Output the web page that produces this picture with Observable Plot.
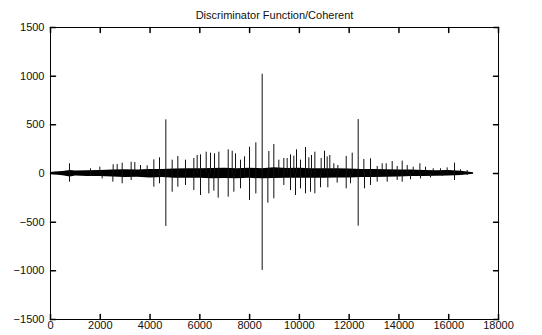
<!DOCTYPE html>
<html><head><meta charset="utf-8">
<script src="https://cdn.jsdelivr.net/npm/d3@7"></script>
<script src="https://cdn.jsdelivr.net/npm/@observablehq/plot@0.6"></script>
<style>body{margin:0;background:#fff}</style>
</head><body><div id="chart"></div>
<script>
const title = "Discriminator Function/Coherent";
const xTicks = [0, 2000, 4000, 6000, 8000, 10000, 12000, 14000, 16000, 18000];
const yTicks = [-1500, -1000, -500, 0, 500, 1000, 1500];

// upward spikes (sample index, value)
const upX = [763, 1607, 1982, 2518, 2679, 2880, 3241, 3388, 3616, 3884, 4152, 4380, 4634, 4889, 5116, 5424, 5759, 5893, 6027, 6255, 6429, 6590, 6764, 7140, 7301, 7434, 7635, 7796, 7996, 8250, 8505, 8773, 8973, 9174, 9375, 9509, 9643, 9777, 9884, 10045, 10246, 10380, 10487, 10621, 10875, 11009, 11116, 11223, 11384, 11545, 11881, 12122, 12363, 12590, 12858, 13126, 13327, 13488, 13729, 13930, 14131, 14332, 14573, 14841, 15068, 15376, 15670, 15938, 16233, 16474, 16742];
const upY = [100, 48, 65, 89, 92, 106, 116, 113, 82, 79, 140, 161, 551, 137, 175, 137, 154, 185, 192, 219, 209, 202, 219, 243, 229, 202, 137, 171, 270, 315, 1020, 226, 298, 137, 154, 154, 192, 178, 243, 137, 267, 161, 185, 219, 154, 229, 171, 185, 100, 82, 175, 209, 554, 144, 151, 72, 100, 100, 123, 72, 127, 82, 65, 100, 65, 48, 48, 58, 106, 38, 31];

// downward spikes (sample index, value)
const downX = [763, 2076, 2505, 2880, 3241, 4152, 4380, 4634, 4889, 5116, 5424, 5759, 6027, 6362, 6563, 6737, 7140, 7367, 7635, 7996, 8250, 8505, 8733, 8973, 9375, 9643, 9844, 10045, 10246, 10447, 10621, 10849, 11143, 11518, 11881, 12054, 12363, 12617, 12858, 13126, 13528, 13930, 14131, 14465, 14867, 15268, 15738, 16233, 16742];
const downY = [-89, -55, -89, -106, -72, -140, -106, -544, -192, -140, -123, -175, -226, -209, -181, -253, -243, -192, -157, -277, -210, -996, -305, -260, -123, -175, -226, -157, -209, -192, -209, -147, -147, -99, -157, -106, -541, -157, -123, -89, -89, -72, -89, -65, -55, -45, -31, -72, -20];

// dense noise band envelope
const bandX = [0, 200, 500, 800, 1000, 1500, 2000, 2500, 3000, 3500, 4000, 4500, 5000, 5500, 6000, 6500, 7000, 7500, 8000, 8500, 9000, 9500, 10000, 10500, 11000, 11500, 12000, 12500, 13000, 13500, 14000, 14500, 15000, 15500, 16000, 16500, 17000];
const bandHi = [10, 15, 20, 30, 25, 28, 30, 35, 38, 36, 42, 40, 45, 50, 48, 52, 55, 50, 55, 50, 58, 52, 55, 50, 48, 50, 45, 42, 40, 38, 36, 35, 30, 28, 30, 22, 8];
const bandLo = [-10, -15, -22, -35, -25, -30, -32, -35, -40, -38, -45, -42, -48, -50, -50, -55, -52, -55, -50, -55, -52, -50, -50, -48, -50, -45, -45, -42, -40, -38, -35, -32, -30, -28, -25, -20, -8];

const ups = upX.map((x, i) => ({x, v: upY[i]}));
const downs = downX.map((x, i) => ({x, v: downY[i]}));
const band = bandX.map((x, i) => ({x, hi: bandHi[i], lo: bandLo[i]}));

const tickShape = {draw(context, l) { context.moveTo(0, 0); context.lineTo(0, -l); }};
const fmt = d3.format("d");
const font = "'Liberation Sans', Arial, sans-serif";
const chart = Plot.plot({
  width: 542, height: 335,
  marginTop: 27, marginBottom: 16, marginLeft: 50, marginRight: 44,
  style: {fontFamily: font, fontSize: "11px", color: "#111", background: "#fff"},
  x: {domain: [0, 18000]},
  y: {domain: [-1500, 1500]},
  marks: [
    Plot.areaY(band, {x: "x", y1: "lo", y2: "hi", fill: "#000", curve: "linear"}),
    Plot.ruleX(ups, {x: "x", y1: 0, y2: "v", stroke: "#111", strokeWidth: 1}),
    Plot.ruleX(downs, {x: "x", y1: 0, y2: "v", stroke: "#111", strokeWidth: 1}),
    Plot.frame({stroke: "#000", strokeWidth: 1}),
    Plot.axisX(xTicks, {anchor: "bottom", tickSize: 0, tickPadding: 2, fontSize: 11, label: null, tickFormat: fmt}),
    Plot.axisY(yTicks, {anchor: "left", tickSize: 0, tickPadding: 6, fontSize: 11, label: null, tickFormat: fmt}),
    Plot.vector(xTicks, {x: d => d, frameAnchor: "bottom", length: 5, rotate: 0, anchor: "start", shape: tickShape, stroke: "#000"}),
    Plot.vector(xTicks, {x: d => d, frameAnchor: "top", length: 5, rotate: 180, anchor: "start", shape: tickShape, stroke: "#000"}),
    Plot.vector(yTicks, {y: d => d, frameAnchor: "left", length: 5, rotate: 90, anchor: "start", shape: tickShape, stroke: "#000"}),
    Plot.vector(yTicks, {y: d => d, frameAnchor: "right", length: 5, rotate: -90, anchor: "start", shape: tickShape, stroke: "#000"}),
    Plot.text([title], {frameAnchor: "top", dy: -12, fontSize: 11, fill: "#111", lineAnchor: "middle"})
  ]
});
document.getElementById("chart").appendChild(chart);
</script>
</body></html>
